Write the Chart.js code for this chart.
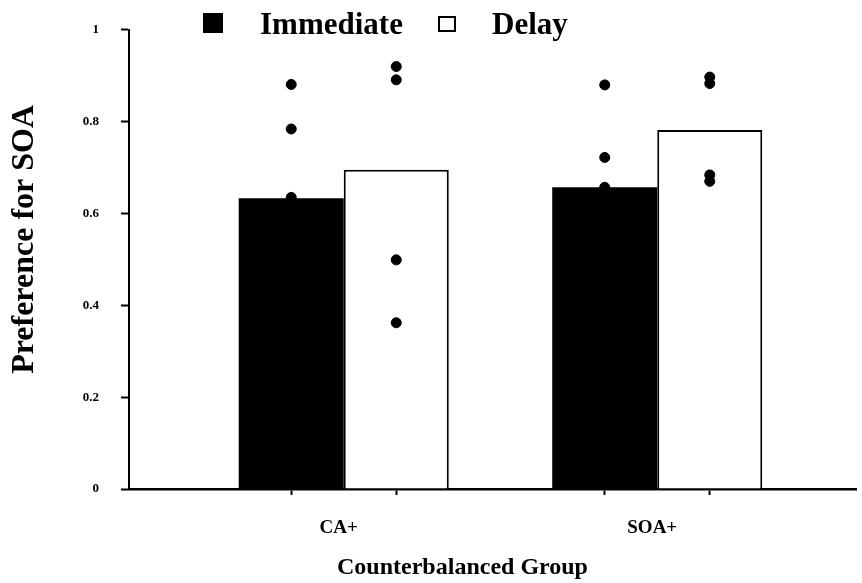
<!DOCTYPE html>
<html>
<head>
<meta charset="utf-8">
<script src="https://cdn.jsdelivr.net/npm/chart.js@4.4.1/dist/chart.umd.min.js"></script>
<style>
  body { margin: 0; background: #fff; }
</style>
</head>
<body>
<canvas id="myChart" width="862" height="583"></canvas>
<script>
// group names and mean preference per condition
var groups = ['CA+', 'SOA+'];
var immediateMeans = [0.633, 0.657];
var delayMeans = [0.695, 0.782];

// individual subjects (dots)
var immediateDots = [[0.881, 0.784, 0.635], [0.880, 0.722, 0.657]];
var delayDots = [[0.920, 0.891, 0.499, 0.362], [0.897, 0.883, 0.684, 0.670]];

var seriesNames = ['Immediate', 'Delay'];

var catPct = 0.67;
var off = catPct / 4; // half of one bar, in axis units
var xMin = 0.315, xMax = 2.634;

var serif = "'Liberation Serif', 'Times New Roman', serif";

function barData(values) {
    return values.map(function (v, i) { return { x: i + 1, y: v }; });
}

function dotData() {
    var pts = [];
    groups.forEach(function (g, i) {
        immediateDots[i].forEach(function (v) { pts.push({ x: i + 1 - off, y: v }); });
        delayDots[i].forEach(function (v) { pts.push({ x: i + 1 + off, y: v }); });
    });
    return pts;
}

// tick marks sit under every bar, label only under the group centre
var xTickValues = [];
groups.forEach(function (g, i) {
    xTickValues.push(i + 1 - off, i + 1, i + 1 + off);
});

// legend drawn by hand so it can sit over the top of the plot
var legendPlugin = {
    id: 'topLegend',
    afterDraw: function (chart) {
        var ctx = chart.ctx;
        ctx.save();
        ctx.fillStyle = '#000';
        ctx.fillRect(203, 13, 20, 20);
        ctx.strokeStyle = '#000';
        ctx.lineWidth = 2;
        ctx.strokeRect(439, 17, 16, 14);
        ctx.font = 'bold 31px ' + serif;
        ctx.textBaseline = 'alphabetic';
        ctx.fillText(seriesNames[0], 260, 34);
        ctx.fillText(seriesNames[1], 492, 34);
        ctx.restore();
    }
};

var ctx = document.getElementById('myChart').getContext('2d');
var myChart = new Chart(ctx, {
    type: 'bar',
    data: {
        datasets: [{
            type: 'scatter',
            label: 'subjects',
            data: dotData(),
            xAxisID: 'xb',
            backgroundColor: '#000',
            borderColor: '#000',
            pointRadius: 5,
            pointHoverRadius: 5,
            order: 0
        }, {
            label: seriesNames[0],
            data: barData(immediateMeans),
            xAxisID: 'xb',
            backgroundColor: '#000',
            borderWidth: 0,
            categoryPercentage: catPct,
            barPercentage: 1,
            order: 1
        }, {
            label: seriesNames[1],
            data: barData(delayMeans),
            xAxisID: 'xb',
            backgroundColor: '#fff',
            borderColor: '#000',
            borderWidth: 2,
            categoryPercentage: catPct,
            barPercentage: 1,
            order: 1
        }]
    },
    options: {
        responsive: false,
        animation: false,
        devicePixelRatio: 1,
        layout: { padding: { top: 28, left: 0, right: 0, bottom: 0 } },
        plugins: {
            legend: { display: false },
            tooltip: { enabled: false }
        },
        scales: {
            xb: {
                type: 'linear',
                display: false,
                position: 'bottom',
                min: xMin,
                max: xMax,
                bounds: 'data',
                offset: false,
                grid: { offset: false },
                afterBuildTicks: function (scale) {
                    scale.ticks = groups.map(function (g, i) { return { value: i + 1 }; });
                }
            },
            x: {
                type: 'linear',
                position: 'bottom',
                min: xMin,
                max: xMax,
                bounds: 'data',
                offset: false,
                afterBuildTicks: function (scale) {
                    scale.ticks = xTickValues.map(function (v) { return { value: v }; });
                },
                afterFit: function (scale) { scale.height = 94; },
                border: { display: true, color: '#000', width: 2.5 },
                grid: {
                    offset: false,
                    drawOnChartArea: false,
                    drawTicks: true,
                    tickLength: 6,
                    tickWidth: 2,
                    tickColor: function (c) { return c.index % 3 === 1 ? 'rgba(0,0,0,0)' : '#000'; }
                },
                ticks: {
                    autoSkip: false,
                    maxRotation: 0,
                    padding: 22,
                    labelOffset: -5,
                    color: '#000',
                    font: { family: serif, size: 19, weight: 'bold' },
                    callback: function (value, index) {
                        return index % 3 === 1 ? groups[(index - 1) / 3] : '';
                    }
                },
                title: {
                    display: true,
                    // trailing spaces push the title left, as in the original
                    text: 'Counterbalanced Group          ',
                    color: '#000',
                    font: { family: serif, size: 24, weight: 'bold' },
                    padding: { top: 0, bottom: 1 }
                }
            },
            y: {
                min: 0,
                max: 1,
                afterFit: function (scale) { scale.width = 129; },
                border: { display: true, color: '#000', width: 2 },
                grid: {
                    drawOnChartArea: false,
                    drawTicks: true,
                    tickLength: 8,
                    tickWidth: 2,
                    tickColor: '#000'
                },
                ticks: {
                    stepSize: 0.2,
                    padding: 22,
                    color: '#000',
                    font: { family: serif, size: 13, weight: 'bold' },
                    callback: function (value) { return String(Number(value.toFixed(1))); }
                },
                title: {
                    display: true,
                    // leading spaces lift the title a little, as in the original
                    text: '     Preference for SOA',
                    color: '#000',
                    font: { family: serif, size: 32, weight: 'bold' },
                    padding: { top: 6, bottom: 0 }
                }
            }
        }
    },
    plugins: [legendPlugin]
});
</script>
</body>
</html>
